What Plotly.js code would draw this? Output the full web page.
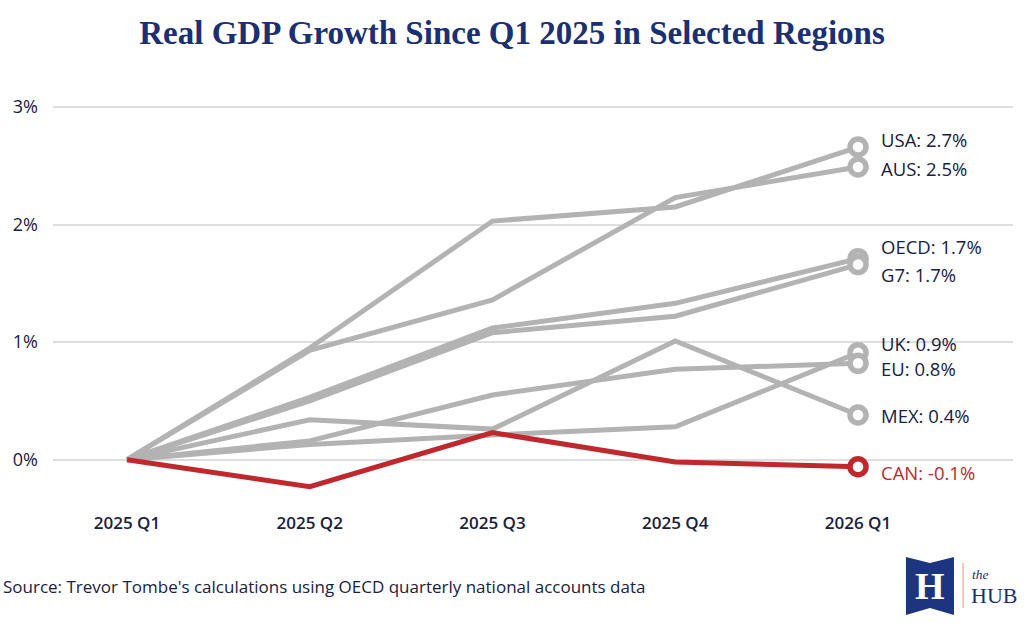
<!DOCTYPE html>
<html>
<head>
<meta charset="utf-8">
<script src="https://cdn.plot.ly/plotly-3.0.1.min.js"></script>
<style>
  html, body { margin: 0; padding: 0; background: #ffffff; }
  #chart { width: 1024px; height: 628px; }
</style>
</head>
<body>
<div id="chart"></div>
<script>
// ---------- data ----------
const quarters = ['2025 Q1', '2025 Q2', '2025 Q3', '2025 Q4', '2026 Q1'];
const regions  = ['USA', 'AUS', 'OECD', 'G7', 'UK', 'EU', 'MEX', 'CAN'];
const usa  = [0, 0.95, 2.03, 2.15, 2.66];
const aus  = [0, 0.93, 1.36, 2.23, 2.49];
const oecd = [0, 0.53, 1.12, 1.33, 1.71];
const g7   = [0, 0.50, 1.08, 1.22, 1.66];
const uk   = [0, 0.13, 0.21, 0.28, 0.91];
const eu   = [0, 0.16, 0.55, 0.77, 0.82];
const mex  = [0, 0.34, 0.26, 1.01, 0.38];
const can  = [0, -0.23, 0.23, -0.02, -0.06];
const yTicks = [0, 1, 2, 3];
const yTickLabels = ['0%', '1%', '2%', '3%'];
const titleText = 'Real GDP Growth Since Q1 2025 in Selected Regions';
const sourceText = "Source: Trevor Tombe's calculations using OECD quarterly national accounts data";

// ---------- styles ----------
const seriesValues = [usa, aus, oecd, g7, uk, eu, mex, can];
const GRAY = '#b3b3b3';
const RED = '#c0282d';
const NAVY = '#1a2140';
const TITLE_NAVY = '#1b2f72';
// vertical pixel nudges for end labels (positive = up)
const labelShift = {USA: 8, AUS: -1, OECD: 12, G7: -10, UK: 9, EU: -5, MEX: 0, CAN: -6};

const traces = [];
regions.forEach((name, i) => {
  const col = name === 'CAN' ? RED : GRAY;
  traces.push({
    type: 'scatter',
    mode: 'lines',
    x: quarters,
    y: seriesValues[i],
    name: name,
    line: {color: col, width: 5},
    hoverinfo: 'skip',
    showlegend: false
  });
});
// end markers drawn on top
regions.forEach((name, i) => {
  const col = name === 'CAN' ? RED : GRAY;
  const vals = seriesValues[i];
  traces.push({
    type: 'scatter',
    mode: 'markers',
    x: [quarters[quarters.length - 1]],
    y: [vals[vals.length - 1]],
    marker: {size: 16, color: '#ffffff', line: {color: col, width: 5.5}},
    hoverinfo: 'skip',
    showlegend: false
  });
});

const annotations = regions.map((name, i) => {
  const vals = seriesValues[i];
  const last = vals[vals.length - 1];
  return {
    x: quarters[quarters.length - 1],
    y: last,
    xref: 'x', yref: 'y',
    text: name + ': ' + last.toFixed(1) + '%',
    showarrow: false,
    xanchor: 'left',
    yanchor: 'middle',
    xshift: 22,
    yshift: labelShift[name],
    borderpad: 0,
    font: {family: 'Open Sans, sans-serif', size: 18.5, weight: 500, color: name === 'CAN' ? RED : NAVY}
  };
});

// source note
annotations.push({
  xref: 'paper', yref: 'paper',
  x: -0.054, y: -0.209,
  xanchor: 'left', yanchor: 'middle',
  text: sourceText,
  showarrow: false,
  font: {family: 'Open Sans, sans-serif', size: 17, color: NAVY}
});

// logo text
annotations.push({
  xref: 'paper', yref: 'paper',
  x: 0.9135, y: -0.209, xanchor: 'center', yanchor: 'middle',
  text: '<b>H</b>', showarrow: false,
  font: {family: 'Liberation Serif, serif', size: 38, color: '#ffffff'}
});
annotations.push({
  xref: 'paper', yref: 'paper',
  x: 0.956, y: -0.181, xanchor: 'left', yanchor: 'middle',
  text: '<i>the</i>', showarrow: false, borderpad: 0,
  font: {family: 'Liberation Serif, serif', size: 13.5, color: TITLE_NAVY}
});
annotations.push({
  xref: 'paper', yref: 'paper',
  x: 0.955, y: -0.232, xanchor: 'left', yanchor: 'middle',
  text: 'HUB', showarrow: false, borderpad: 0,
  font: {family: 'Liberation Serif, serif', size: 22, color: TITLE_NAVY}
});

const layout = {
  width: 1024,
  height: 628,
  paper_bgcolor: '#ffffff',
  plot_bgcolor: '#ffffff',
  margin: {l: 53, r: 11, t: 100, b: 126},
  title: {
    text: '<b>' + titleText + '</b>',
    x: 0.5, xref: 'container', xanchor: 'center',
    y: 0.949, yref: 'container', yanchor: 'middle',
    font: {family: 'Liberation Serif, serif', size: 33, color: TITLE_NAVY}
  },
  xaxis: {
    type: 'category',
    range: [-0.405, 4.848],
    showgrid: false,
    zeroline: false,
    showline: false,
    ticks: '',
    tickfont: {family: 'Open Sans, sans-serif', size: 17, color: NAVY, weight: 600},
    ticklabelstandoff: 9,
    fixedrange: true
  },
  yaxis: {
    range: [-0.36, 3.06],
    tickvals: yTicks,
    ticktext: yTickLabels,
    showgrid: true,
    gridcolor: '#dedede',
    gridwidth: 2,
    zeroline: false,
    showline: false,
    ticks: '',
    tickfont: {family: 'Open Sans, sans-serif', size: 18, color: NAVY, weight: 500},
    ticklabelstandoff: 14,
    fixedrange: true
  },
  annotations: annotations,
  shapes: [
    // logo banner
    {
      type: 'path', xref: 'paper', yref: 'paper',
      path: 'M 0.8885 -0.1368 L 0.9135 -0.1517 L 0.9385 -0.1368 L 0.9385 -0.2811 L 0.9135 -0.2637 L 0.8885 -0.2811 Z',
      fillcolor: '#1d3480', line: {width: 0}
    },
    // thin divider line
    {
      type: 'line', xref: 'paper', yref: 'paper',
      x0: 0.948, x1: 0.948, y0: -0.1517, y1: -0.2637,
      line: {color: '#f2b8a4', width: 1.5}
    }
  ],
  showlegend: false
};

Plotly.newPlot('chart', traces, layout, {displayModeBar: false, staticPlot: true});
</script>
</body>
</html>
